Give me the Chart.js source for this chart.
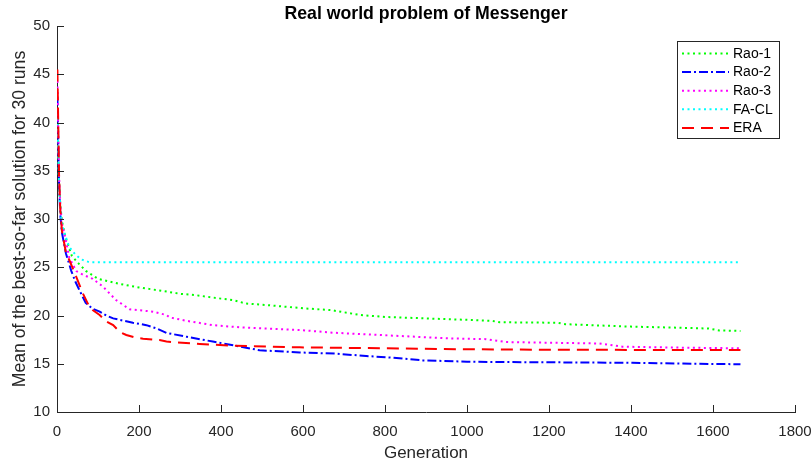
<!DOCTYPE html>
<html>
<head>
<meta charset="utf-8">
<script src="https://cdn.jsdelivr.net/npm/chart.js@4.4.1/dist/chart.umd.min.js"></script>
<style>
  html, body { margin: 0; padding: 0; background: #ffffff; }
  #wrap { width: 812px; height: 465px; position: relative; }
</style>
</head>
<body>
<div id="wrap"><canvas id="c" width="812" height="465"></canvas></div>
<script>
// ---- Data ----
const seriesNames = ["Rao-1", "Rao-2", "Rao-3", "FA-CL", "ERA"];

const rao1Gen = [1, 3, 5, 8, 12, 20, 36, 50, 71, 100, 150, 200, 250, 300, 340, 400, 430, 460, 520, 600, 670, 740, 800, 900, 1000, 1060, 1080, 1220, 1240, 1300, 1400, 1500, 1590, 1615, 1667];
const rao1Val = [41.0, 37.5, 34.0, 31.5, 29.8, 28.2, 26.2, 25.5, 24.6, 23.8, 23.3, 22.9, 22.6, 22.25, 22.1, 21.75, 21.6, 21.25, 21.05, 20.75, 20.55, 20.05, 19.85, 19.7, 19.55, 19.45, 19.3, 19.25, 19.1, 19.0, 18.85, 18.75, 18.65, 18.45, 18.4];

const rao2Gen = [1, 3, 5, 8, 12, 22, 35, 45, 55, 70, 87, 104, 120, 137, 185, 218, 242, 267, 316, 380, 445, 494, 592, 680, 754, 819, 892, 1000, 1078, 1200, 1403, 1550, 1667];
const rao2Val = [42.7, 38.0, 33.5, 30.5, 28.6, 26.4, 24.6, 23.5, 22.6, 21.3, 20.7, 20.4, 20.0, 19.7, 19.25, 19.0, 18.67, 18.2, 17.8, 17.3, 16.8, 16.4, 16.17, 16.05, 15.8, 15.63, 15.35, 15.22, 15.18, 15.15, 15.1, 15.0, 14.95];

const rao3Gen = [1, 3, 5, 8, 12, 19, 30, 47, 65, 87, 112, 144, 177, 234, 267, 275, 316, 380, 445, 592, 673, 835, 957, 1046, 1095, 1322, 1379, 1500, 1667];
const rao3Val = [44.3, 39.0, 34.5, 31.5, 29.5, 28.3, 26.0, 24.6, 24.2, 23.8, 23.0, 21.6, 20.65, 20.4, 20.05, 19.8, 19.45, 19.0, 18.78, 18.5, 18.22, 17.88, 17.63, 17.55, 17.25, 17.1, 16.77, 16.68, 16.6];

const faclGen = [1, 3, 5, 8, 12, 20, 30, 45, 60, 79, 1667];
const faclVal = [40.5, 37.0, 33.5, 31.0, 29.5, 28.3, 27.1, 26.3, 25.8, 25.52, 25.52];

const eraGen = [1, 3, 5, 8, 12, 22, 30, 47, 63, 79, 87, 104, 120, 137, 153, 169, 193, 210, 250, 267, 331, 348, 429, 592, 800, 997, 1200, 1667];
const eraVal = [45.5, 40.0, 34.5, 31.0, 28.8, 26.45, 25.75, 24.0, 22.3, 20.9, 20.57, 20.05, 19.4, 19.0, 18.3, 17.98, 17.7, 17.6, 17.45, 17.3, 17.1, 17.05, 16.87, 16.7, 16.6, 16.5, 16.45, 16.42];

const xTicks = [0, 200, 400, 600, 800, 1000, 1200, 1400, 1600, 1800];
const yTicks = [10, 15, 20, 25, 30, 35, 40, 45, 50];

const titleText = "Real world problem of Messenger";
const xLabel = "Generation";
const yLabel = "Mean of the best-so-far solution for 30 runs";

// ---- Build datasets ----
function pts(g, v) { return g.map((x, i) => ({ x: x, y: v[i] })); }

const styles = [
  { color: "#00ff00", dash: [2, 3.5] },
  { color: "#0000ff", dash: [9, 3, 2, 3] },
  { color: "#ff00ff", dash: [2, 3.5] },
  { color: "#00ffff", dash: [2, 3.5] },
  { color: "#ff0000", dash: [12, 7] }
];
const allData = [pts(rao1Gen, rao1Val), pts(rao2Gen, rao2Val), pts(rao3Gen, rao3Val), pts(faclGen, faclVal), pts(eraGen, eraVal)];

const datasets = seriesNames.map((name, i) => ({
  label: name,
  data: allData[i],
  borderColor: styles[i].color,
  backgroundColor: styles[i].color,
  borderDash: styles[i].dash,
  borderWidth: 2,
  pointRadius: 0,
  tension: 0,
  fill: false,
  order: 5 - i
}));

const axisColor = "#262626";
const FONT = "'Liberation Sans', Arial, Helvetica, sans-serif";

// inward tick marks (MATLAB style)
const tickPlugin = {
  id: "inTicks",
  afterDatasetsDraw(chart) {
    const ctx = chart.ctx;
    const xs = chart.scales.x, ys = chart.scales.y;
    const a = chart.chartArea;
    const L = 7;
    ctx.save();
    ctx.strokeStyle = axisColor;
    ctx.lineWidth = 1;
    ctx.beginPath();
    xTicks.forEach(t => {
      const px = Math.round(xs.getPixelForValue(t)) + 0.5;
      ctx.moveTo(px, a.bottom);
      ctx.lineTo(px, a.bottom - L);
    });
    yTicks.forEach(t => {
      const py = Math.round(ys.getPixelForValue(t)) + 0.5;
      ctx.moveTo(a.left, py);
      ctx.lineTo(a.left + L, py);
    });
    ctx.stroke();
    ctx.restore();
  }
};

// legend box inside the plot (MATLAB northeast style)
const legendPlugin = {
  id: "boxLegend",
  afterDraw(chart) {
    const ctx = chart.ctx;
    const bx = 677.5, by = 41.5, bw = 102, bh = 97;
    ctx.save();
    ctx.fillStyle = "#ffffff";
    ctx.fillRect(bx, by, bw, bh);
    ctx.strokeStyle = axisColor;
    ctx.lineWidth = 1;
    ctx.setLineDash([]);
    ctx.strokeRect(bx, by, bw, bh);
    ctx.font = "14px " + FONT;
    ctx.textBaseline = "middle";
    ctx.textAlign = "left";
    chart.data.datasets.forEach((ds, i) => {
      const y = 53.5 + i * 18.6;
      ctx.beginPath();
      ctx.strokeStyle = ds.borderColor;
      ctx.lineWidth = 2;
      ctx.setLineDash(ds.borderDash);
      ctx.moveTo(682, y);
      ctx.lineTo(729, y);
      ctx.stroke();
      ctx.setLineDash([]);
      ctx.fillStyle = "#000000";
      ctx.fillText(ds.label, 733, y + 0.5);
    });
    ctx.restore();
  }
};

new Chart(document.getElementById("c"), {
  type: "line",
  data: { datasets: datasets },
  plugins: [tickPlugin, legendPlugin],
  options: {
    responsive: false,
    animation: false,
    events: [],
    layout: { padding: { top: 0, right: 17, left: 0, bottom: 0 } },
    plugins: {
      legend: { display: false },
      tooltip: { enabled: false },
      title: {
        display: true,
        text: titleText,
        color: "#000000",
        fullSize: false,
        font: { family: FONT, size: 17.7, weight: "bold" },
        padding: { top: 3.5, bottom: 1.3 }
      }
    },
    scales: {
      x: {
        type: "linear",
        min: 0, max: 1800,
        afterBuildTicks(scale) { scale.ticks = xTicks.map(v => ({ value: v })); },
        afterFit(scale) { scale.height = 53; scale.paddingLeft = 0; scale.paddingRight = 0; },
        ticks: { color: axisColor, font: { family: FONT, size: 15 }, padding: 11, maxRotation: 0, autoSkip: false,
                 callback: v => String(v) },
        grid: { display: true, drawOnChartArea: false, drawTicks: false },
        border: { display: true, color: axisColor, width: 1 },
        title: { display: true, text: xLabel, color: axisColor, font: { family: FONT, size: 17 }, padding: { top: 0, bottom: 1 } }
      },
      y: {
        type: "linear",
        min: 10, max: 50,
        afterBuildTicks(scale) { scale.ticks = yTicks.map(v => ({ value: v })); },
        afterFit(scale) { scale.width = 57; scale.paddingTop = 0; scale.paddingBottom = 0; },
        ticks: { color: axisColor, font: { family: FONT, size: 15 }, padding: 7, autoSkip: false,
                 callback: v => String(v) },
        grid: { display: true, drawOnChartArea: false, drawTicks: false },
        border: { display: true, color: axisColor, width: 1 },
        title: { display: true, text: yLabel, color: axisColor, font: { family: FONT, size: 17.6 }, padding: { top: 10, bottom: 0 } }
      }
    }
  }
});
</script>
</body>
</html>
